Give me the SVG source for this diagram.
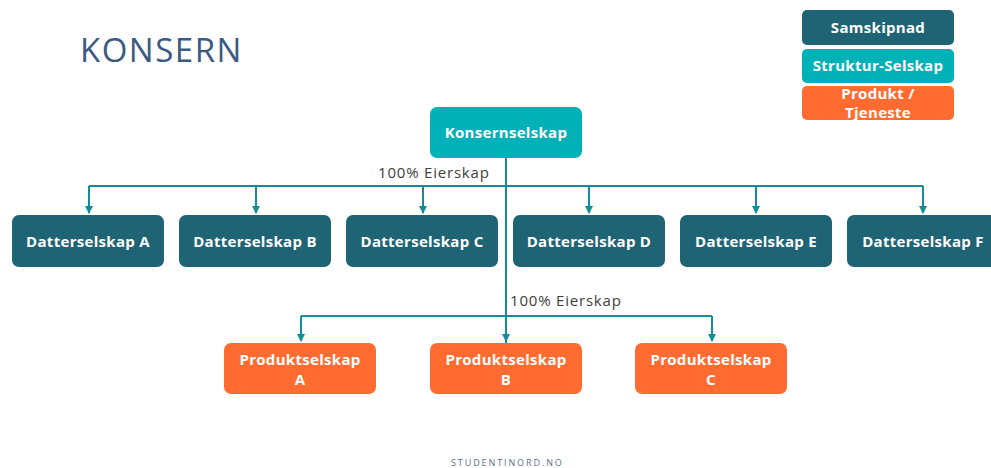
<svg xmlns="http://www.w3.org/2000/svg" width="991" height="468" viewBox="0 0 991 468">
<defs>
<style>
.dark{fill:#1f6475}
.teal{fill:#00b2b8}
.orange{fill:#ff6b30}
.lbl{font-family:"Open Sans","Liberation Sans",sans-serif;font-weight:bold;font-size:15px;letter-spacing:0.3px;fill:#fff;text-anchor:middle}
.conn{stroke:#138e98;stroke-width:2;fill:none}
.note{font-family:"Open Sans","Liberation Sans",sans-serif;font-size:15px;letter-spacing:0.8px;fill:#404040}
</style>
<marker id="arr" viewBox="0 0 8 8" refX="7" refY="4" markerWidth="4" markerHeight="4" orient="auto"><path d="M0,0 L8,4 L0,8 z" fill="#138e98"/></marker>
</defs>
<rect width="991" height="468" fill="#fff"/>
<text x="80" y="62" font-family="'Open Sans','Liberation Sans',sans-serif" font-size="33" letter-spacing="1.5" fill="#3b5a80">KONSERN</text>
<g id="legend-samskipnad"><rect class="dark" x="802" y="10" width="152" height="35" rx="5"/><text class="lbl" x="878" y="33">Samskipnad</text></g>
<g id="legend-struktur"><rect class="teal" x="802" y="49" width="152" height="34" rx="5"/><text class="lbl" x="878" y="71">Struktur-Selskap</text></g>
<g id="legend-produkt"><rect class="orange" x="802" y="86" width="152" height="34" rx="5"/><text class="lbl" x="878" y="99">Produkt /</text><text class="lbl" x="878" y="118">Tjeneste</text></g>
<g id="connectors">
<path class="conn" d="M506,158 V343"/>
<path class="conn" d="M89,186 H923"/>
<path class="conn" d="M89,186 V213" marker-end="url(#arr)"/>
<path class="conn" d="M256,186 V213" marker-end="url(#arr)"/>
<path class="conn" d="M423,186 V213" marker-end="url(#arr)"/>
<path class="conn" d="M589,186 V213" marker-end="url(#arr)"/>
<path class="conn" d="M756,186 V213" marker-end="url(#arr)"/>
<path class="conn" d="M923,186 V213" marker-end="url(#arr)"/>
<path class="conn" d="M301,316 H712"/>
<path class="conn" d="M301,316 V341" marker-end="url(#arr)"/>
<path class="conn" d="M506,316 V341" marker-end="url(#arr)"/>
<path class="conn" d="M712,316 V341" marker-end="url(#arr)"/>
<text class="note" x="378" y="178">100% Eierskap</text>
<text class="note" x="510" y="306">100% Eierskap</text>
</g>
<g id="konsernselskap"><rect class="teal" x="430" y="107" width="152" height="51" rx="7"/><text class="lbl" x="506" y="138">Konsernselskap</text></g>
<g id="datter-a"><rect class="dark" x="12" y="215" width="152" height="52" rx="7"/><text class="lbl" x="88" y="247">Datterselskap A</text></g>
<g id="datter-b"><rect class="dark" x="179" y="215" width="152" height="52" rx="7"/><text class="lbl" x="255" y="247">Datterselskap B</text></g>
<g id="datter-c"><rect class="dark" x="346" y="215" width="152" height="52" rx="7"/><text class="lbl" x="422" y="247">Datterselskap C</text></g>
<g id="datter-d"><rect class="dark" x="513" y="215" width="152" height="52" rx="7"/><text class="lbl" x="589" y="247">Datterselskap D</text></g>
<g id="datter-e"><rect class="dark" x="680" y="215" width="152" height="52" rx="7"/><text class="lbl" x="756" y="247">Datterselskap E</text></g>
<g id="datter-f"><rect class="dark" x="847" y="215" width="152" height="52" rx="7"/><text class="lbl" x="923" y="247">Datterselskap F</text></g>
<g id="produkt-a"><rect class="orange" x="224" y="343" width="152" height="51" rx="7"/><text class="lbl" x="300" y="365">Produktselskap</text><text class="lbl" x="300" y="385">A</text></g>
<g id="produkt-b"><rect class="orange" x="430" y="343" width="152" height="51" rx="7"/><text class="lbl" x="506" y="365">Produktselskap</text><text class="lbl" x="506" y="385">B</text></g>
<g id="produkt-c"><rect class="orange" x="635" y="343" width="152" height="51" rx="7"/><text class="lbl" x="711" y="365">Produktselskap</text><text class="lbl" x="711" y="385">C</text></g>
<text x="451" y="466" font-family="'Open Sans','Liberation Sans',sans-serif" font-size="9" letter-spacing="1.9" fill="#5a6f8f">STUDENTINORD.NO</text>
</svg>
